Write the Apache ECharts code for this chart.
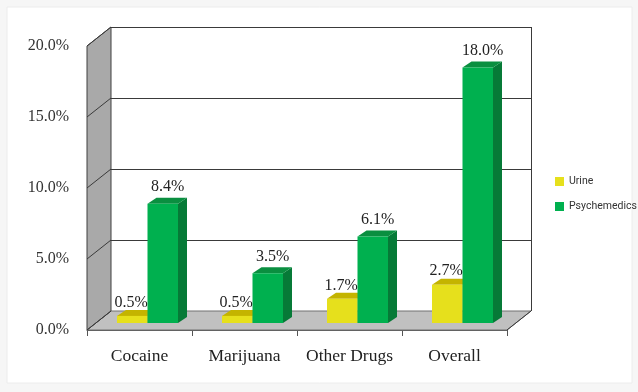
<!DOCTYPE html>
<html><head><meta charset="utf-8">
<script src="https://cdn.jsdelivr.net/npm/echarts@6/dist/echarts.min.js"></script>
<style>html,body{margin:0;padding:0;background:#f6f6f6;} #c{width:638px;height:392px;}</style>
</head><body><div id="c"></div>
<script>
const categories = ['Cocaine', 'Marijuana', 'Other Drugs', 'Overall'];
const urine = [0.5, 0.5, 1.7, 2.7];
const psychemedics = [8.4, 3.5, 6.1, 18.0];
const seriesNames = ['Urine', 'Psychemedics'];
const yTicks = [0, 5, 10, 15, 20];

// 3D styling constants
const DX = 24, DY = -19;      // wall depth
const OX = 8, OY = -7;        // bar placement inside depth
const BW = 30.5;              // bar width
const BDX = 9, BDY = -6;      // bar depth
const SERIF = 'Liberation Serif';

const chart = echarts.init(document.getElementById('c'), null, {renderer: 'canvas'});

function px(v) { return Math.round(v) + 0.5; }

function renderWalls(params, api) {
  const cs = params.coordSys;
  const x0 = cs.x, x1 = cs.x + cs.width;
  const y = v => api.coord([0, v])[1];
  const yTop = y(20), yBot = y(0);
  const ch = [];
  ch.push({type: 'polygon', shape: {points: [[x0 + DX, yTop + DY], [x1 + DX, yTop + DY], [x1 + DX, yBot + DY], [x0 + DX, yBot + DY]]},
    style: {fill: '#ffffff'}});
  ch.push({type: 'polygon', shape: {points: [[x0, yBot], [x1, yBot], [x1 + DX, yBot + DY], [x0 + DX, yBot + DY]]},
    style: {fill: '#c0c0c0', stroke: '#707070', lineWidth: 1}});
  ch.push({type: 'polygon', shape: {points: [[x0, yTop], [x0 + DX, yTop + DY], [x0 + DX, yBot + DY], [x0, yBot]]},
    style: {fill: '#a9a9a9', stroke: '#404040', lineWidth: 1}});
  yTicks.forEach(t => {
    const yy = y(t);
    if (t > 0) {
      ch.push({type: 'line', shape: {x1: x0 + DX, y1: px(yy + DY), x2: x1 + DX, y2: px(yy + DY)},
        style: {stroke: '#3a3a3a', lineWidth: 1}});
    }
    ch.push({type: 'line', shape: {x1: x0, y1: yy, x2: x0 + DX, y2: yy + DY},
      style: {stroke: '#3a3a3a', lineWidth: 1}});
  });
  ch.push({type: 'line', shape: {x1: px(x1 + DX), y1: yTop + DY, x2: px(x1 + DX), y2: yBot + DY},
    style: {stroke: '#3a3a3a', lineWidth: 1}});
  ch.push({type: 'line', shape: {x1: x1, y1: yBot, x2: x1 + DX, y2: yBot + DY},
    style: {stroke: '#3a3a3a', lineWidth: 1}});
  return {type: 'group', children: ch};
}

function makeBar(sIdx, front, side, topC) {
  return function (params, api) {
    const cat = api.value(0), val = api.value(1);
    const base = api.coord([cat, 0]);
    const top = api.coord([cat, val]);
    const bx0 = base[0] + OX + (sIdx === 0 ? -BW : 0);
    const bx1 = bx0 + BW;
    const yb = base[1] + OY, yt = top[1] + OY;
    const labelX = (bx0 + bx1) / 2 + (sIdx === 0 ? -1 : 5);
    const labelY = yt + BDY - (sIdx === 0 ? 7.5 : 11);
    return {type: 'group', children: [
      {type: 'polygon', shape: {points: [[bx1, yt], [bx1 + BDX, yt + BDY], [bx1 + BDX, yb + BDY], [bx1, yb]]}, style: {fill: side}},
      {type: 'polygon', shape: {points: [[bx0, yt], [bx0 + BDX, yt + BDY], [bx1 + BDX, yt + BDY], [bx1, yt]]}, style: {fill: topC}},
      {type: 'rect', shape: {x: bx0, y: yt, width: BW, height: yb - yt}, style: {fill: front}},
      {type: 'text', x: labelX, y: labelY, style: {text: val.toFixed(1) + '%', fill: '#222', font: '16px "' + SERIF + '"', align: 'center', verticalAlign: 'middle'}}
    ]};
  };
}

const option = {
  backgroundColor: '#f6f6f6',
  animation: false,
  graphic: [{type: 'rect', z: -100, shape: {x: 7, y: 7, width: 625, height: 376}, style: {fill: '#ffffff', stroke: '#ececec', lineWidth: 1}}],
  grid: {left: 87, top: 46, width: 420, height: 284},
  legend: {
    data: seriesNames, orient: 'vertical', left: 555, top: 176, padding: 0,
    itemWidth: 9, itemHeight: 9, itemGap: 14, icon: 'rect',
    textStyle: {fontFamily: 'Roboto', fontSize: 10.5, color: '#333'}
  },
  xAxis: {
    type: 'category', data: categories, boundaryGap: true,
    axisLine: {lineStyle: {color: '#555', width: 1}},
    axisTick: {show: true, length: 6, interval: 0, lineStyle: {color: '#555'}},
    axisLabel: {fontFamily: SERIF, fontSize: 17.5, color: '#222', margin: 17, interval: 0}
  },
  yAxis: {
    type: 'value', min: 0, max: 20, interval: 5,
    axisLine: {show: false}, axisTick: {show: false}, splitLine: {show: false},
    axisLabel: {fontFamily: SERIF, fontSize: 16, color: '#333', margin: 18, formatter: v => v.toFixed(1) + '%'}
  },
  series: [
    {type: 'custom', name: 'walls', silent: true, z: 1, clip: false, renderItem: renderWalls, data: [[0, 0]], encode: {x: 0, y: 1}},
    {type: 'custom', name: seriesNames[0], z: 3, clip: false, itemStyle: {color: '#e6e01c'},
      renderItem: makeBar(0, '#e6e01c', '#b8a800', '#c4b400'), data: urine.map((v, i) => [i, v]), encode: {x: 0, y: 1}},
    {type: 'custom', name: seriesNames[1], z: 3, clip: false, itemStyle: {color: '#00b04f'},
      renderItem: makeBar(1, '#00b04f', '#067a37', '#0a8f40'), data: psychemedics.map((v, i) => [i, v]), encode: {x: 0, y: 1}}
  ]
};
chart.setOption(option);
</script>
</body></html>
